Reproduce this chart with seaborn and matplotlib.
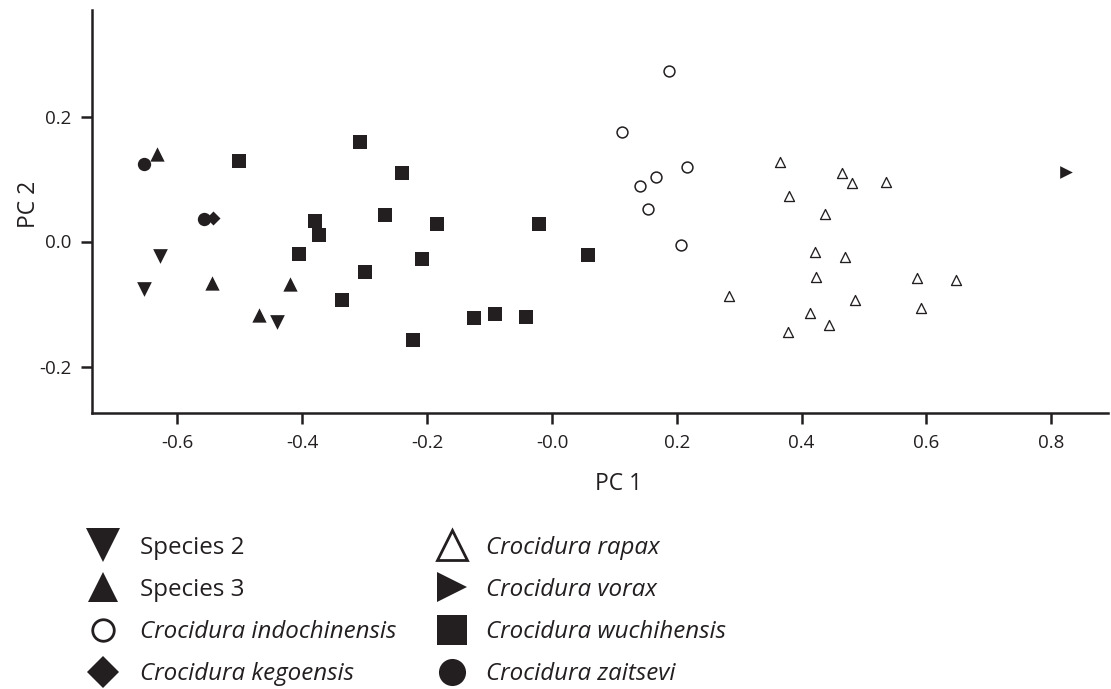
import matplotlib
matplotlib.use("Agg")
import matplotlib.pyplot as plt
from matplotlib.lines import Line2D
import seaborn as sns
import pandas as pd

# ---- data ----
species2_x = [-0.628, -0.653, -0.441]
species2_y = [-0.023, -0.076, -0.128]
species3_x = [-0.633, -0.544, -0.419, -0.470]
species3_y = [0.140, -0.067, -0.068, -0.118]
indochinensis_x = [0.187, 0.113, 0.216, 0.167, 0.141, 0.154, 0.207]
indochinensis_y = [0.273, 0.176, 0.119, 0.103, 0.089, 0.052, -0.005]
kegoensis_x = [-0.543]
kegoensis_y = [0.037]
rapax_x = [0.366, 0.464, 0.480, 0.535, 0.380, 0.437, 0.421, 0.469, 0.423,
           0.585, 0.648, 0.283, 0.485, 0.592, 0.414, 0.444, 0.379]
rapax_y = [0.127, 0.109, 0.093, 0.095, 0.073, 0.044, -0.017, -0.024, -0.056,
           -0.058, -0.061, -0.087, -0.093, -0.106, -0.115, -0.134, -0.144]
vorax_x = [0.823]
vorax_y = [0.112]
wuchihensis_x = [-0.502, -0.308, -0.240, -0.379, -0.373, -0.267, -0.184, -0.405, -0.209,
                 -0.300, -0.337, -0.125, -0.223, -0.020, 0.057, -0.091, -0.042]
wuchihensis_y = [0.129, 0.160, 0.110, 0.033, 0.010, 0.042, 0.028, -0.020, -0.028,
                 -0.048, -0.094, -0.123, -0.157, 0.028, -0.022, -0.116, -0.121]
zaitsevi_x = [-0.653, -0.558]
zaitsevi_y = [0.124, 0.036]

species_names = ["Species 2", "Species 3", "Crocidura indochinensis", "Crocidura kegoensis",
                 "Crocidura rapax", "Crocidura vorax", "Crocidura wuchihensis", "Crocidura zaitsevi"]
x_ticks = [-0.6, -0.4, -0.2, 0.0, 0.2, 0.4, 0.6, 0.8]
x_ticklabels = ["-0.6", "-0.4", "-0.2", "-0.0", "0.2", "0.4", "0.6", "0.8"]
y_ticks = [-0.2, 0.0, 0.2]
y_ticklabels = ["-0.2", "0.0", "0.2"]

xs = [species2_x, species3_x, indochinensis_x, kegoensis_x, rapax_x, vorax_x, wuchihensis_x, zaitsevi_x]
ys = [species2_y, species3_y, indochinensis_y, kegoensis_y, rapax_y, vorax_y, wuchihensis_y, zaitsevi_y]
rows = []
for name, xv, yv in zip(species_names, xs, ys):
    for a, b in zip(xv, yv):
        rows.append({"PC1": a, "PC2": b, "species": name})
df = pd.DataFrame(rows)

# ---- styling ----
INK = "#231f20"
sns.set_theme(style="ticks")
plt.rcParams["font.family"] = ["Open Sans", "DejaVu Sans"]
plt.rcParams["text.color"] = INK
plt.rcParams["axes.labelcolor"] = INK
plt.rcParams["xtick.color"] = INK
plt.rcParams["ytick.color"] = INK

# marker, face, size (pt^2), edge width
style = {
    "Species 2": ("v", INK, 112, 0.0),
    "Species 3": ("^", INK, 106, 0.0),
    "Crocidura indochinensis": ("o", "white", 61, 1.1),
    "Crocidura kegoensis": ("D", INK, 51, 0.0),
    "Crocidura rapax": ("^", "white", 52, 0.95),
    "Crocidura vorax": (">", INK, 83, 0.0),
    "Crocidura wuchihensis": ("s", INK, 88, 0.0),
    "Crocidura zaitsevi": ("o", INK, 92, 0.0),
}

fig = plt.figure(figsize=(11.11, 6.89), dpi=100)
ax = fig.add_axes([92 / 1111, 1 - 413 / 689, 1016 / 1111, 403 / 689])

for name in species_names:
    m, fc, s, lw = style[name]
    sub = df[df["species"] == name]
    sns.scatterplot(data=sub, x="PC1", y="PC2", marker=m, s=s, color=fc,
                    edgecolor=INK, linewidth=lw, ax=ax, legend=False, zorder=3)

ax.set_xlim(-0.737, 0.891)
ax.set_ylim(-0.2744, 0.3704)
ax.set_xticks(x_ticks)
ax.set_xticklabels(x_ticklabels)
ax.set_yticks(y_ticks)
ax.set_yticklabels(y_ticklabels)
sns.despine(ax=ax)
for sp in ("left", "bottom"):
    ax.spines[sp].set_linewidth(1.8)
    ax.spines[sp].set_color(INK)
ax.tick_params(axis="both", length=8, width=1.8, labelsize=13.5, pad=7)

ax.set_xlabel("PC 1", fontsize=16.5)
ax.set_ylabel("PC 2", fontsize=16.5)
ax.xaxis.set_label_coords(0.518, -0.146)
ax.yaxis.set_label_coords(-0.050, 0.517)

# ---- legend (two columns) ----
leg_sizes = {
    "Species 2": 25, "Species 3": 22, "Crocidura indochinensis": 15.5,
    "Crocidura kegoensis": 16, "Crocidura rapax": 21, "Crocidura vorax": 22,
    "Crocidura wuchihensis": 21, "Crocidura zaitsevi": 19.5,
}

def handle(name):
    m, fc, s, lw = style[name]
    return Line2D([], [], linestyle="none", marker=m, markersize=leg_sizes[name],
                  markerfacecolor=fc, markeredgecolor=INK,
                  markeredgewidth=(2.0 if fc == "white" else 0.0))

col1 = species_names[:4]
col2 = species_names[4:]
common = dict(loc="center left", frameon=False, fontsize=17.4, handlelength=1.2,
              labelspacing=0.75, borderpad=0, borderaxespad=0, numpoints=1)
leg1 = fig.legend([handle(n) for n in col1], col1, handletextpad=0.93,
                  bbox_to_anchor=(88.5 / 1111, (689 - 611) / 689), **common)
leg2 = fig.legend([handle(n) for n in col2], col2, handletextpad=0.81,
                  bbox_to_anchor=(437.5 / 1111, (689 - 611) / 689), **common)
for lg in (leg1, leg2):
    for t in lg.get_texts():
        t.set_color(INK)
        if t.get_text().startswith("Crocidura"):
            t.set_fontstyle("italic")

fig.savefig("out.png", dpi=100)
